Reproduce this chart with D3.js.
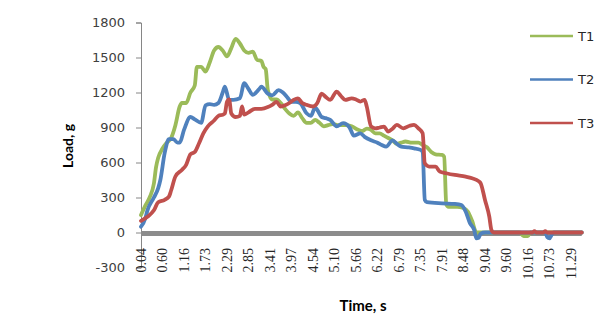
<!DOCTYPE html>
<html><head><meta charset="utf-8">
<script src="https://cdn.jsdelivr.net/npm/d3@7"></script>
<style>body{margin:0;background:#fff}svg{display:block}</style>
</head><body>
<svg id="c" width="607" height="322"></svg>
<script>
// category index -> time label (every 10th category)
const timeLabels = ["0.04","0.60","1.16","1.73","2.29","2.85","3.41","3.97","4.54","5.10","5.66","6.22","6.79","7.35","7.91","8.48","9.04","9.60","10.16","10.73","11.29"];
const lastIndex = 205;
const yTicks = [-300,0,300,600,900,1200,1500,1800];
const seriesNames = ["T1","T2","T3"];
const seriesColors = ["#9BBB59","#4F81BD","#C0504D"];
// [category index, load g]
const t1 = [[0,150],[2,230],[4,300],[6,420],[7,560],[8,640],[10,720],[12,770],[14,810],[16,920],[18,1080],[19,1110],[21,1110],[23,1200],[25,1260],[26,1420],[28,1420],[30,1380],[32,1460],[34,1560],[36,1590],[38,1560],[40,1510],[42,1580],[44,1660],[46,1620],[48,1560],[50,1540],[52,1550],[54,1480],[56,1470],[57,1420],[58,1400],[59,1220],[61,1140],[63,1140],[65,1110],[67,1060],[69,1020],[71,1000],[73,1030],[75,980],[77,940],[79,940],[81,965],[83,940],[85,910],[87,920],[89,930],[92,920],[95,920],[98,910],[101,880],[103,870],[105,890],[107,880],[109,850],[111,850],[113,830],[115,810],[117,790],[119,760],[121,770],[123,780],[126,770],[129,770],[131,750],[133,730],[135,690],[137,670],[140,665],[141,650],[142,240],[143,220],[147,220],[150,210],[152,180],[154,100],[156,0],[176,0],[178,-30],[180,-30],[181,0],[205,0]];
const t2 = [[0,50],[2,120],[3,190],[6,300],[8,380],[9,450],[11,680],[13,800],[15,800],[17,770],[18,770],[20,880],[23,990],[25,970],[28,940],[30,1090],[32,1100],[34,1094],[36,1110],[38,1200],[39,1250],[41,1137],[43,1137],[46,1150],[48,1280],[50,1230],[52,1180],[55,1230],[56,1250],[59,1190],[61,1175],[64,1220],[66,1200],[68,1160],[70,1120],[72,1120],[74,1110],[77,1022],[79,1000],[81,1070],[82,1050],[84,990],[86,980],[88,965],[91,910],[94,937],[97,900],[99,830],[102,850],[104,820],[107,790],[110,770],[112,750],[114,736],[117,790],[119,760],[121,736],[124,730],[127,722],[130,708],[131,690],[132,280],[133,260],[140,250],[146,245],[149,235],[151,180],[153,80],[155,20],[156,-50],[157,-45],[158,-10],[160,0],[188,0],[189,-40],[190,-50],[191,-20],[192,0],[205,0]];
const t3 = [[0,100],[3,135],[6,190],[8,260],[11,280],[13,307],[14,360],[16,480],[19,536],[21,580],[23,670],[25,690],[27,765],[29,850],[31,908],[34,960],[36,1000],[38,1010],[39,1020],[40,1120],[41,1140],[42,1020],[44,990],[46,1000],[47,1080],[48,1010],[50,1030],[53,1060],[56,1060],[59,1075],[61,1094],[63,1120],[65,1080],[67,1090],[69,1110],[71,1137],[73,1150],[75,1110],[77,1094],[80,1080],[82,1110],[84,1190],[86,1160],[88,1137],[91,1208],[93,1170],[95,1137],[98,1150],[100,1140],[102,1122],[104,1137],[105,1080],[107,910],[109,893],[111,900],[113,908],[115,865],[117,890],[119,922],[122,893],[125,915],[127,922],[129,893],[131,850],[132,593],[134,565],[137,565],[139,522],[142,508],[146,493],[151,479],[154,465],[157,440],[158,422],[160,279],[162,136],[163,21],[164,0],[182,0],[183,12],[184,0],[187,0],[188,12],[189,0],[205,0]];
const series = [t1,t2,t3];

const svg = d3.select("#c");
const x = d3.scaleLinear().domain([0,lastIndex]).range([141,581.75]);
const y = d3.scaleLinear().domain([-300,1800]).range([267.5,22.5]);

// y axis
const yAxis = d3.axisLeft(y).tickValues(yTicks).tickSize(5).tickPadding(11).tickFormat(d=>String(d));
const ga = svg.append("g").attr("transform","translate(141,0)").call(yAxis);
ga.select(".domain").attr("stroke","#868686");
ga.selectAll(".tick line").attr("stroke","#868686");
ga.selectAll(".tick text").attr("font-family","'DejaVu Sans', sans-serif").attr("font-size",13).attr("fill","#404040");

// x tick labels
const gx = svg.append("g");
gx.selectAll("text").data(timeLabels).join("text")
  .attr("transform",(d,i)=>`translate(${x(i*10)},248) rotate(-90)`)
  .attr("text-anchor","end").attr("dy","0.35em")
  .attr("font-family","'Liberation Serif', serif").attr("font-size",14).attr("fill","#262626")
  .text(d=>d);

// zero (category) axis line
svg.append("line").attr("x1",x(0)).attr("x2",x(lastIndex)).attr("y1",y(0)+1).attr("y2",y(0)+1)
  .attr("stroke","#8c8c8c").attr("stroke-width",5);

// series lines
const line = d3.line().x(d=>x(d[0])).y(d=>y(d[1])).curve(d3.curveMonotoneX);
series.forEach((s,k)=>{
  svg.append("path").datum(s).attr("d",line).attr("fill","none")
    .attr("stroke",seriesColors[k]).attr("stroke-width",3.8).attr("stroke-linejoin","round").attr("stroke-linecap","round");
});

// legend
const lg = svg.append("g");
seriesNames.forEach((n,k)=>{
  const yy = 36 + k*43.5;
  lg.append("line").attr("x1",530).attr("x2",573).attr("y1",yy).attr("y2",yy).attr("stroke",seriesColors[k]).attr("stroke-width",2.5);
  lg.append("text").attr("x",578).attr("y",yy).attr("dy","0.36em").attr("font-family","'DejaVu Sans', sans-serif").attr("font-size",13).attr("fill","#262626").text(n);
});

// axis titles
svg.append("text").attr("transform","translate(68,146) rotate(-90)").attr("text-anchor","middle").attr("dy","0.35em")
  .attr("font-family","Lato, sans-serif").attr("font-weight","bold").attr("font-size",14).attr("fill","#000").text("Load, g");
svg.append("text").attr("x",363).attr("y",311).attr("text-anchor","middle")
  .attr("font-family","Lato, sans-serif").attr("font-weight","bold").attr("font-size",15).attr("fill","#000").text("Time, s");
</script>
</body></html>
